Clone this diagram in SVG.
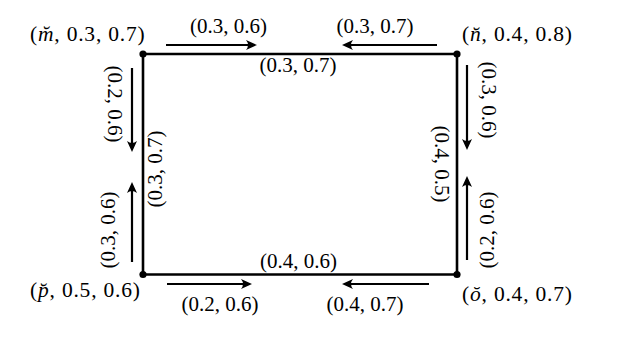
<svg xmlns="http://www.w3.org/2000/svg" width="622" height="339" viewBox="0 0 622 339">
<style>
text{font-family:"Liberation Serif","Times New Roman",serif;font-size:21px;fill:#000;}
.pl{text-anchor:middle;}
.nl{font-size:21.5px;letter-spacing:0.8px;}
.edge{stroke:#000;stroke-width:2.6;fill:none;stroke-linecap:square;}
.arr{stroke:#000;stroke-width:2.2;fill:none;marker-end:url(#ah);}
.dot{fill:#000;}
</style>
<defs>
<marker id="ah" markerUnits="userSpaceOnUse" viewBox="-12 -6 13 12" refX="-4" refY="0" markerWidth="13" markerHeight="12" orient="auto">
<path d="M0,0 L-11,-5 Q-7,0 -11,5 Z" fill="#000"/>
</marker>
</defs>
<rect width="622" height="339" fill="#fff"/>
<g id="connectors">
<line class="edge" x1="143" y1="54" x2="457" y2="54"/>
<line class="edge" x1="457" y1="54" x2="457" y2="274.5"/>
<line class="edge" x1="143" y1="274.5" x2="457" y2="274.5"/>
<line class="edge" x1="143" y1="54" x2="143" y2="274.5"/>
<text class="pl" x="298" y="72">(0.3, 0.7)</text>
<text class="pl" x="298.5" y="268">(0.4, 0.6)</text>
<text class="pl" transform="translate(161.5,169) rotate(-90)">(0.3, 0.7)</text>
<text class="pl" transform="translate(435,164) rotate(90)">(0.4, 0.5)</text>
<line class="arr" x1="166" y1="45" x2="253" y2="45"/>
<text class="pl" x="228.5" y="32.5">(0.3, 0.6)</text>
<line class="arr" x1="437" y1="45" x2="346" y2="45"/>
<text class="pl" x="375" y="32.5">(0.3, 0.7)</text>
<line class="arr" x1="132" y1="68" x2="132" y2="148"/>
<text class="pl" transform="translate(108,104) rotate(90)">(0.2, 0.6)</text>
<line class="arr" x1="132" y1="262" x2="132" y2="186"/>
<text class="pl" transform="translate(115,230) rotate(-90)">(0.3, 0.6)</text>
<line class="arr" x1="467" y1="65" x2="467" y2="146"/>
<text class="pl" transform="translate(482,100) rotate(90)">(0.3, 0.6)</text>
<line class="arr" x1="467" y1="260" x2="467" y2="180"/>
<text class="pl" transform="translate(494,230) rotate(-90)">(0.2, 0.6)</text>
<line class="arr" x1="167" y1="284" x2="248" y2="284"/>
<text class="pl" x="220" y="311">(0.2, 0.6)</text>
<line class="arr" x1="429" y1="284" x2="346" y2="284"/>
<text class="pl" x="365" y="311">(0.4, 0.7)</text>
</g>
<g id="node-m">
<circle class="dot" cx="143" cy="54" r="3.6"/>
<text class="nl" x="30" y="41">(<tspan font-style="italic">m̆</tspan>, 0.3, 0.7)</text>
</g>
<g id="node-n">
<circle class="dot" cx="457" cy="54" r="3.6"/>
<text class="nl" x="462" y="41">(<tspan font-style="italic">n̆</tspan>, 0.4, 0.8)</text>
</g>
<g id="node-p">
<circle class="dot" cx="143" cy="274.5" r="3.6"/>
<text class="nl" x="30" y="297">(<tspan font-style="italic">p̆</tspan>, 0.5, 0.6)</text>
</g>
<g id="node-o">
<circle class="dot" cx="457" cy="274.5" r="3.6"/>
<text class="nl" x="462" y="301">(<tspan font-style="italic">ŏ</tspan>, 0.4, 0.7)</text>
</g>
</svg>
